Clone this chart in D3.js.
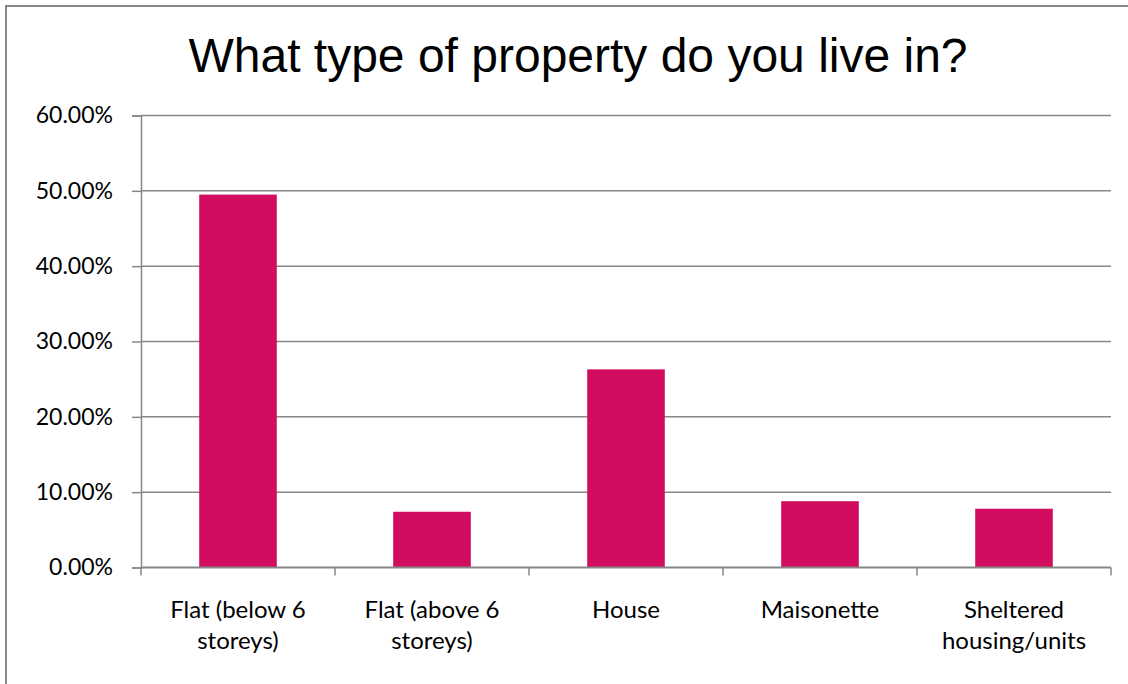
<!DOCTYPE html>
<html>
<head>
<meta charset="utf-8">
<script src="https://cdn.jsdelivr.net/npm/d3@7"></script>
<style>
  html, body { margin: 0; padding: 0; background: #ffffff; }
  svg { display: block; }
</style>
</head>
<body>
<div id="chart"></div>
<script>
// Survey answers: share of respondents by property type
const categories = [
  "Flat (below 6 storeys)",
  "Flat (above 6 storeys)",
  "House",
  "Maisonette",
  "Sheltered housing/units"
];
const shares = [0.495, 0.074, 0.263, 0.088, 0.078];
const yTicks = [0, 0.1, 0.2, 0.3, 0.4, 0.5, 0.6];
const title = "What type of property do you live in?";

const W = 1128, H = 684;
const plot = { left: 141, right: 1111, top: 115.5, bottom: 567.5 };
const grey = "#878787";
const barColor = "#D20C5E";
const labelFont = "Lato, 'Open Sans', sans-serif";

const svg = d3.select("#chart").append("svg")
  .attr("width", W).attr("height", H);

// Outer chart frame
svg.append("rect")
  .attr("x", 6).attr("y", 6)
  .attr("width", W + 20).attr("height", H + 20)
  .attr("fill", "#ffffff")
  .attr("stroke", grey).attr("stroke-width", 2);

// Title
svg.append("text")
  .attr("x", 578).attr("y", 72)
  .attr("text-anchor", "middle")
  .attr("font-family", "'Liberation Sans', Arial, sans-serif")
  .attr("font-size", 48)
  .attr("fill", "#000")
  .text(title);

const x = d3.scaleBand()
  .domain(categories)
  .range([plot.left, plot.right])
  .paddingInner(0.6)
  .paddingOuter(0.3);

const y = d3.scaleLinear()
  .domain([0, 0.6])
  .range([plot.bottom, plot.top]);

// Horizontal gridlines
svg.append("g")
  .selectAll("line")
  .data(yTicks.filter(d => d > 0))
  .join("line")
  .attr("x1", plot.left).attr("x2", plot.right)
  .attr("y1", d => y(d)).attr("y2", d => y(d))
  .attr("stroke", grey).attr("stroke-width", 1.5);

// Y axis
const yAxis = svg.append("g")
  .attr("transform", `translate(${plot.left},0)`)
  .call(d3.axisLeft(y)
    .tickValues(yTicks)
    .tickFormat(d3.format(".2%"))
    .tickSize(9)
    .tickPadding(19));
yAxis.select(".domain").attr("stroke", grey).attr("stroke-width", 1.5);
yAxis.selectAll(".tick line").attr("stroke", grey).attr("stroke-width", 1.5);
yAxis.selectAll(".tick text")
  .attr("font-family", labelFont)
  .attr("font-size", 23)
  .attr("fill", "#000");

// Bars
svg.append("g")
  .selectAll("rect")
  .data(categories.map((c, i) => ({ c, v: shares[i] })))
  .join("rect")
  .attr("x", d => x(d.c))
  .attr("y", d => y(d.v))
  .attr("width", x.bandwidth())
  .attr("height", d => y(0) - y(d.v))
  .attr("fill", barColor);

// X axis line and boundary ticks between categories
const step = x.step();
const bounds = d3.range(categories.length + 1).map(i => plot.left + i * step);
svg.append("line")
  .attr("x1", plot.left).attr("x2", plot.right)
  .attr("y1", plot.bottom).attr("y2", plot.bottom)
  .attr("stroke", grey).attr("stroke-width", 2);
svg.append("g")
  .selectAll("line")
  .data(bounds)
  .join("line")
  .attr("x1", d => d).attr("x2", d => d)
  .attr("y1", plot.bottom).attr("y2", plot.bottom + 8)
  .attr("stroke", grey).attr("stroke-width", 1.5);

// Category labels, wrapped to fit beneath each bar
const catSize = 24;
function wrapWords(text, maxWidth, measure) {
  const words = text.split(" ");
  const lines = [];
  let line = words[0];
  for (let i = 1; i < words.length; i++) {
    const test = line + " " + words[i];
    if (measure(test) <= maxWidth) line = test;
    else { lines.push(line); line = words[i]; }
  }
  lines.push(line);
  return lines;
}
const probe = svg.append("text")
  .attr("font-family", labelFont).attr("font-size", catSize)
  .attr("visibility", "hidden");
const measure = s => { probe.text(s); return probe.node().getComputedTextLength(); };

const xLabels = svg.append("g");
categories.forEach(c => {
  const lines = wrapWords(c, 175, measure);
  const t = xLabels.append("text")
    .attr("x", x(c) + x.bandwidth() / 2)
    .attr("y", 618)
    .attr("text-anchor", "middle")
    .attr("font-family", labelFont)
    .attr("font-size", catSize)
    .attr("fill", "#000");
  lines.forEach((ln, i) => {
    t.append("tspan")
      .attr("x", x(c) + x.bandwidth() / 2)
      .attr("dy", i === 0 ? 0 : 31)
      .text(ln);
  });
});
probe.remove();
</script>
</body>
</html>
